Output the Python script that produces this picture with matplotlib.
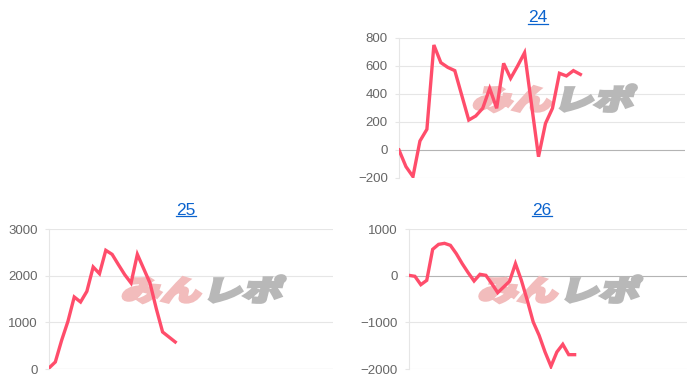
import matplotlib
matplotlib.use('Agg')
import matplotlib.pyplot as plt
from matplotlib.textpath import TextPath
from matplotlib.patches import PathPatch
from matplotlib.font_manager import FontProperties
from matplotlib.transforms import Affine2D, IdentityTransform
from matplotlib.lines import Line2D

plt.rcParams['font.family'] = ['Liberation Sans', 'DejaVu Sans']

# data
vals24 = [0, -119, -190, 64, 148, 750, 624, 590, 567, 390, 214, 243, 298, 440,
          298, 619, 512, 600, 695, 324, -48, 190, 298, 548, 529, 567, 540]
vals25 = [21, 150, 614, 1021, 1543, 1436, 1664, 2186, 2043, 2543, 2457, 2236,
          2021, 1843, 2457, 2150, 1843, 1293, 793, 686, 579]
vals26 = [7, -14, -193, -100, 564, 671, 693, 650, 471, 257, 64, -114, 29, 7,
          -171, -364, -243, -121, 257, -100, -529, -993, -1279, -1636, -1943,
          -1636, -1471, -1693, -1693]

n_labels = {'24': 42, '25': 46, '26': 48}
yticks = {'24': [-200, 0, 200, 400, 600, 800],
          '25': [0, 1000, 2000, 3000],
          '26': [-2000, -1000, 0, 1000]}
series = {'24': vals24, '25': vals25, '26': vals26}

LINE = '#ff4d6b'
GRID = '#e6e6e6'
ZERO = '#b4b4b4'
TICK = '#666666'
LINK = '#0b63ce'

fig = plt.figure(figsize=(7, 3.86), dpi=100)

# axes rectangles in pixels (left, top, right, bottom) and title centre
boxes = {'24': (399, 38, 685, 178, 538, 18),
         '25': (49, 229, 333, 369, 186, 210),
         '26': (409, 229, 687, 369, 542, 210)}

W, H = 700, 386


def watermark(ax):
    fp = FontProperties(family='Noto Sans CJK JP', weight='black')
    p1 = TextPath((0, 0), 'みん', size=1, prop=fp)
    e1 = p1.get_extents()
    p2 = TextPath((e1.x1 + 0.08, 0), 'レポ', size=1, prop=fp)
    e2 = p2.get_extents()
    x0, x1 = e1.x0, e2.x1
    y0, y1 = min(e1.y0, e2.y0), max(e1.y1, e2.y1)
    cx, cy = ax.transAxes.transform((0.545, 0.57))
    t = (Affine2D().translate(-(x0 + x1) / 2, -(y0 + y1) / 2)
         .scale(158 / (x1 - x0), 27 / (y1 - y0)).skew_deg(14, 0)
         .translate(cx, cy))
    ax.add_patch(PathPatch(p1, transform=t, fc='#f2bcbc', ec='#f2bcbc',
                           lw=2.2, zorder=1))
    ax.add_patch(PathPatch(p2, transform=t, fc='#b8b8b8', ec='#b8b8b8',
                           lw=2.2, zorder=1))


titles = []
for key, (l, t_, r, b, tx, ty) in boxes.items():
    ax = fig.add_axes([l / W, 1 - b / H, (r - l) / W, (b - t_) / H])
    vals = series[key]
    ax.plot(range(len(vals)), vals, color=LINE, lw=2.4, zorder=3,
            solid_joinstyle='miter')
    ticks = yticks[key]
    ax.set_ylim(ticks[0], ticks[-1])
    ax.set_xlim(0, n_labels[key] - 1)
    ax.set_yticks(ticks)
    ax.set_xticks([])
    for y in ticks:
        ax.axhline(y, color=ZERO if y == 0 else GRID, lw=0.8, zorder=0.5)
    for s in ['top', 'right', 'bottom']:
        ax.spines[s].set_visible(False)
    ax.spines['left'].set_color(GRID)
    ax.spines['left'].set_linewidth(0.8)
    ax.tick_params(axis='y', length=3, color=GRID, labelcolor=TICK,
                   labelsize=9.5, pad=5)
    ax.patch.set_alpha(0)
    watermark(ax)
    txt = fig.text(tx / W, 1 - ty / H, key, color=LINK, fontsize=12.5,
                   ha='center', va='center')
    titles.append(txt)

fig.canvas.draw()
for txt in titles:
    bb = txt.get_window_extent()
    fig.add_artist(Line2D([bb.x0, bb.x1], [bb.y0 + 1.5, bb.y0 + 1.5],
                          transform=IdentityTransform(), color=LINK, lw=0.9))

fig.savefig('out.png', dpi=100)
